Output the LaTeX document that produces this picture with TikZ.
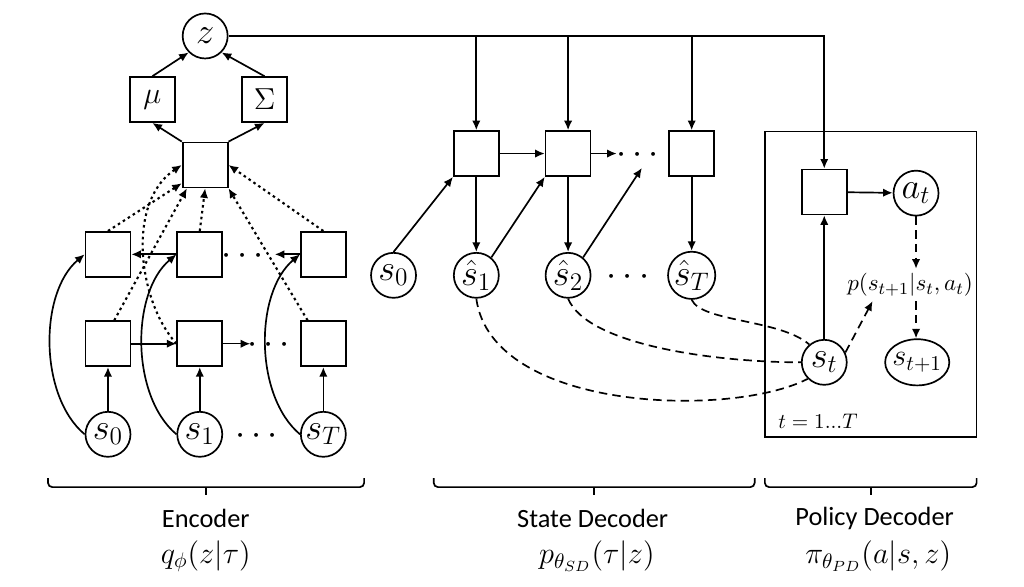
\documentclass[tikz,border=0pt]{standalone}
\usepackage{amsmath,amssymb}
\usepackage{fontspec}
\newfontfamily\capfont{Carlito}
\usetikzlibrary{arrows.meta,calc,positioning,shapes.geometric}

\begin{document}
\begin{tikzpicture}[
    cell/.style={draw, thick, minimum size=0.75cm, inner sep=0pt},
    var/.style={draw, circle, thick, minimum size=0.75cm, inner sep=0pt, font=\LARGE},
    arrow/.style={-{Latex[length=1.6mm,width=1.4mm]}, thick},
    dotarrow/.style={arrow, line width=1pt, dash pattern=on 1.2pt off 1.6pt},
    dasharrow/.style={arrow, dash pattern=on 4pt off 2.5pt},
    dashline/.style={thick, dash pattern=on 4pt off 2.5pt},
    caption/.style={font=\capfont\fontsize{12.5}{14}\selectfont},
    capmath/.style={font=\Large},
    bracket/.style={thick, rounded corners=2pt}
]

% Canvas
\useasboundingbox (0,0) rectangle (17.07,9.77);

% Encoder: latent and its parameters
\node[var] (z) at (3.42,9.17) {$z$};
\node[cell, font=\Large] (mu) at (2.54,8.11) {$\mu$};
\node[cell, font=\Large] (sigma) at (4.41,8.11) {$\Sigma$};
\node[cell] (agg) at (3.42,7.02) {};

% Encoder: backward row
\node[cell] (ub0) at (1.80,5.53) {};
\node[cell] (ub1) at (3.33,5.53) {};
\node[cell] (ubT) at (5.39,5.53) {};
\node[font=\LARGE] (udots) at (4.10,5.50) {$\cdots$};
\coordinate (uend) at (4.58,5.53);

% Encoder: forward row
\node[cell] (lb0) at (1.80,4.04) {};
\node[cell] (lb1) at (3.33,4.04) {};
\node[cell] (lbT) at (5.39,4.04) {};
\node[font=\LARGE] (ldots) at (4.53,4.01) {$\cdots$};
\coordinate (lend) at (4.17,4.04);

% Encoder: inputs
\node[var] (e0) at (1.80,2.53) {$s_0$};
\node[var] (e1) at (3.33,2.53) {$s_1$};
\node[var] (eT) at (5.39,2.53) {$s_T$};
\node[font=\LARGE] (edots) at (4.33,2.50) {$\cdots$};

% Encoder arrows
\draw[arrow] (mu.north) -- (z.225);
\draw[arrow] (sigma.north) -- (z.-45);
\draw[arrow] (agg.north west) -- (mu.south);
\draw[arrow] (agg.north east) -- (sigma.south);

\draw[arrow] (ub1.west) -- (ub0.east);
\draw[arrow] (ubT.west) -- (uend);
\draw[arrow] (lb0.east) -- (lb1.west);
\draw[arrow, semithick] (lb1.east) -- (lend);

\foreach \i in {0,1,T} {
    \draw[arrow] (e\i) -- (lb\i);
    \draw[arrow] (e\i.west) to[out=140, in=220, looseness=0.85] (ub\i.west);
}

% Pooling into the aggregate cell
\draw[dotarrow] (ub0.north) -- (agg.218);
\draw[dotarrow] (lb0.75) -- (agg.232);
\draw[dotarrow] (ub1.north) -- (agg.south);
\draw[dotarrow] (ubT.north) -- (agg.east);
\draw[dotarrow] (lbT.124) -- (agg.south east);
\draw[dotarrow] (lb1.west) .. controls (2.3,4.75) and (2.1,6.4) .. (agg.west);

% State decoder
\node[cell] (sb1) at (7.94,7.21) {};
\node[cell] (sb2) at (9.47,7.21) {};
\node[cell] (sbT) at (11.53,7.21) {};
\node[font=\LARGE] (sbdots) at (10.68,7.18) {$\cdots$};
\coordinate (sbend) at (10.28,7.21);
\coordinate (d2end) at (10.70,6.97);

\node[var] (d0) at (6.56,5.18) {$s_0$};
\node[var] (d1) at (7.94,5.18) {$\hat{s}_1$};
\node[var] (d2) at (9.47,5.18) {$\hat{s}_2$};
\node[var] (dT) at (11.53,5.18) {$\hat{s}_T$};
\node[font=\LARGE] (ddots) at (10.52,5.15) {$\cdots$};

\draw[arrow] (sb1.east) -- (sb2.west);
\draw[arrow] (sb2.east) -- (sbend);
\draw[arrow] (d0.north) -- (sb1.south west);
\draw[arrow] (d1.50) -- (sb2.south west);
\draw[arrow] (d2.50) -- (d2end);
\draw[arrow] (sb1) -- (d1);
\draw[arrow] (sb2) -- (d2);
\draw[arrow] (sbT) -- (dT);

% Policy decoder
\node[draw, thick, minimum width=3.53cm, minimum height=5.1cm, inner sep=0pt] (plate) at (14.515,5.03) {};
\node[cell] (pb) at (13.74,6.57) {};
\node[var] (at) at (15.27,6.55) {$a_t$};
\node[var] (st) at (13.74,3.73) {$s_t$};
\node[draw, ellipse, thick, minimum width=1.03cm, minimum height=0.77cm, inner sep=-1pt, font=\Large] (stp) at (15.29,3.73) {$s_{t+1}$};
\node[font=\fontsize{11}{13}\selectfont, inner sep=2pt] (plabel) at (15.17,5.02) {$p(s_{t+1}|s_t,a_t)$};
\node[anchor=south west, inner sep=0pt] (tlabel) at (12.97,2.62) {$t=1...T$};

\draw[arrow] (st) -- (pb);
\draw[arrow] (pb) -- (at);
\draw[dasharrow] (at.south) -- (at.south |- plabel.north);
\draw[dasharrow] (at.south |- plabel.south) -- (at.south |- stp.north);
\draw[dasharrow] (st.25) -- ([xshift=0.5cm]plabel.south west);

% Latent code feeds every decoder cell
\draw[arrow] (z.east) -| (pb.north);
\foreach \b in {sb1,sb2,sbT}
    \draw[arrow] (z.east -| \b.north) -- (\b.north);

% Decoded states tie to s_t
\draw[dashline] (d1.south) .. controls (8.2,2.9) and (12.2,2.8) .. (st.south west);
\draw[dashline] (d2.south) .. controls (9.8,4.0) and (12.0,3.73) .. (st.west);
\draw[dashline] (dT.south) .. controls (11.7,4.4) and (13.0,4.45) .. (st.130);

% Brackets and captions
\foreach \l/\r in {0.80/6.07, 7.23/12.58, 12.75/16.28} {
    \draw[bracket] (\l,1.80) -- (\l,1.65) -- (\r,1.65) -- (\r,1.80);
    \draw[thick] ({(\l+\r)/2},1.65) -- ({(\l+\r)/2},1.52);
}

\node[caption] (enc) at (3.43,1.13) {Encoder};
\node[capmath] (encq) at (3.43,0.50) {$q_\phi(z|\tau)$};
\node[caption] (sd) at (9.88,1.13) {State Decoder};
\node[capmath] (sdp) at (9.95,0.50) {$p_{\theta_{SD}}(\tau|z)$};
\node[caption] (pd) at (14.58,1.13) {Policy Decoder};
\node[capmath] (pdpi) at (14.64,0.50) {$\pi_{\theta_{PD}}(a|s,z)$};

\end{tikzpicture}
\end{document}
